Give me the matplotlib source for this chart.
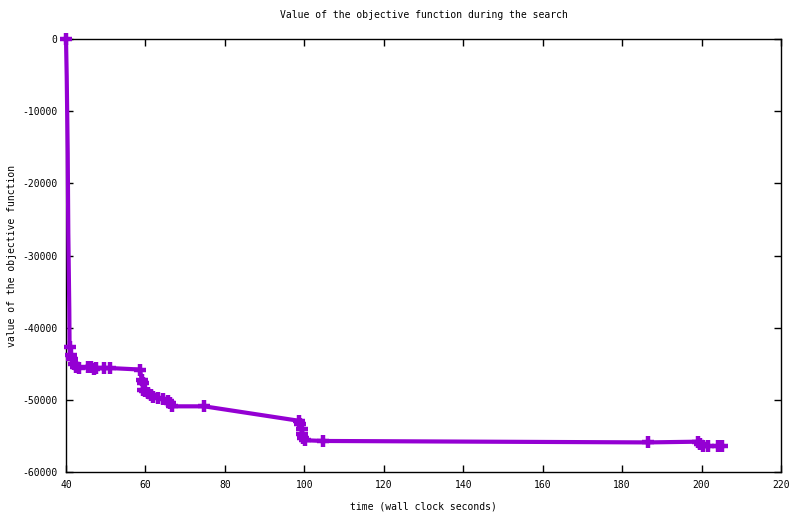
import numpy as np
import matplotlib
matplotlib.use('Agg')
import matplotlib.pyplot as plt

plt.rcParams['font.family'] = ['DejaVu Sans Mono']
plt.rcParams['axes.unicode_minus'] = False

# wall clock time (s) and objective value along the search
time = [40.0, 40.18, 40.43, 40.58, 40.83, 40.9, 41.2, 41.6, 41.9, 42.6,
        43.3, 45.6, 46.4, 47.0, 47.5, 49.5, 51.2, 58.6, 59.1, 59.3,
        59.5, 60.0, 60.7, 61.5, 62.0, 63.2, 64.5, 65.6, 66.3, 66.7,
        74.8, 98.6, 99.0, 99.3, 99.5, 99.7, 100.2, 104.8, 186.5, 199.0,
        199.6, 200.3, 201.6, 204.2, 205.2]
value = [0, -5200, -15800, -26900, -37500, -42700, -43800, -44300, -45000, -45500,
         -45600, -45500, -45500, -45700, -45600, -45600, -45600, -45800, -47300, -47700,
         -48700, -48800, -49100, -49300, -49600, -49800, -49900, -50100, -50500, -50900,
         -50900, -52900, -53400, -54000, -54800, -55300, -55600, -55700, -55900, -55800,
         -56100, -56400, -56400, -56400, -56400]
marked = [0] + list(range(5, len(time)))

xticks = [40, 60, 80, 100, 120, 140, 160, 180, 200, 220]
yticks = [0, -10000, -20000, -30000, -40000, -50000, -60000]

fig = plt.figure(figsize=(8, 5.14), dpi=100)
ax = fig.add_axes([66/800, 1-472/514, (781-66)/800, (472-39)/514])

ax.plot(time, value, color='#9400D3', lw=3, marker='+', ms=9, mew=3.2,
        markevery=marked, solid_joinstyle='miter', clip_on=False, zorder=3)

ax.set_xlim(40, 220)
ax.set_ylim(-60000, 0)
ax.set_xticks(xticks)
ax.set_yticks(yticks)
ax.set_xticklabels([str(t) for t in xticks])
ax.set_yticklabels([str(t) for t in yticks])
ax.tick_params(direction='in', length=5, width=1, top=True, right=True,
               labelsize=7, pad=6, colors='black')
for s in ax.spines.values():
    s.set_linewidth(1)
    s.set_color('black')

ax.set_title('Value of the objective function during the search', fontsize=7, pad=15)
ax.set_xlabel('time (wall clock seconds)', fontsize=7, labelpad=8)
ax.set_ylabel('value of the objective function', fontsize=7, labelpad=4)

fig.savefig('out.png', dpi=100)
